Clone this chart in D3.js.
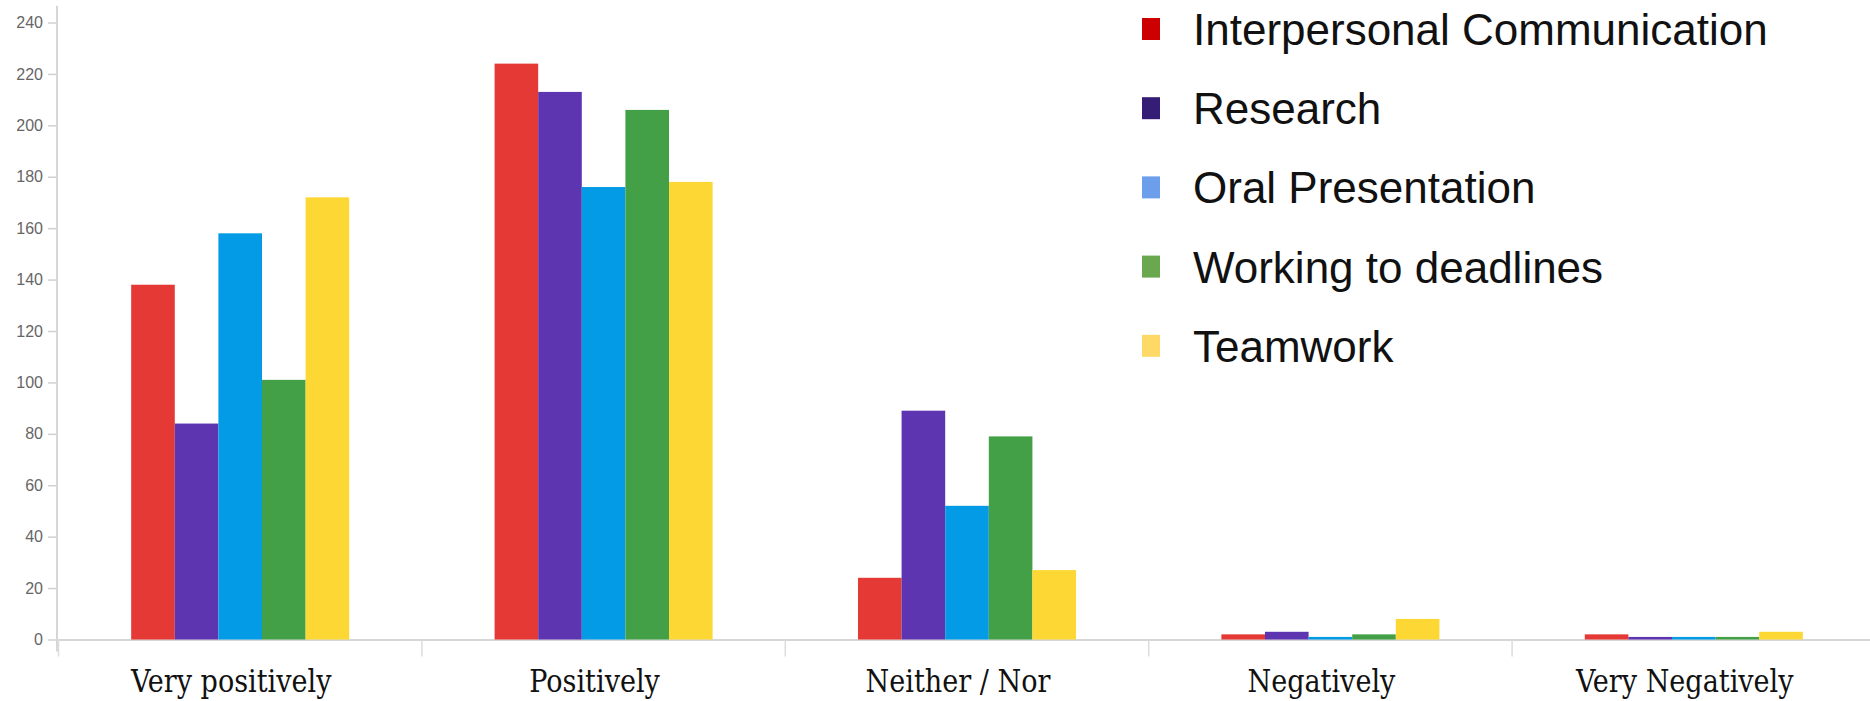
<!DOCTYPE html>
<html>
<head>
<meta charset="utf-8">
<script src="https://cdn.jsdelivr.net/npm/d3@7/dist/d3.min.js"></script>
<style>
  html, body { margin: 0; padding: 0; background: #fff; }
  svg { display: block; }
</style>
</head>
<body>
<svg id="chart" width="1870" height="701"></svg>
<script>
const categories = ["Very positively", "Positively", "Neither / Nor", "Negatively", "Very Negatively"];
const seriesNames = ["Interpersonal Communication", "Research", "Oral Presentation", "Working to deadlines", "Teamwork"];
const interpersonal = [138, 224, 24, 2, 2];
const research      = [84, 213, 89, 3, 1];
const oral          = [158, 176, 52, 1, 1];
const deadlines     = [101, 206, 79, 2, 1];
const teamwork      = [172, 178, 27, 8, 3];
const yTicks = [0, 20, 40, 60, 80, 100, 120, 140, 160, 180, 200, 220, 240];
const barColors = ["#e53935", "#5e35b1", "#039be5", "#43a047", "#fdd835"];
const legendColors = ["#cc0000", "#351c75", "#6d9eeb", "#6aa84f", "#ffd966"];

const seriesValues = [interpersonal, research, oral, deadlines, teamwork];
const rows = categories.map((c, i) => ({ cat: c, vals: seriesNames.map((s, j) => ({ s, j, v: seriesValues[j][i] })) }));

const svg = d3.select("#chart");
const x0 = d3.scaleBand().domain(categories).range([58.5, 1875.5]).padding(0);
const bw = x0.bandwidth();
const x1 = d3.scaleBand().domain(seriesNames).range([0.2 * bw, 0.8 * bw]).padding(0);
const y = d3.scaleLinear().domain([0, 240]).range([639.5, 22.5]);

// y axis
const yAxis = svg.append("g").attr("transform", "translate(57,0)")
  .call(d3.axisLeft(y).tickValues(yTicks).tickSize(9).tickPadding(5));
yAxis.select(".domain").remove();
yAxis.selectAll(".tick line").attr("stroke", "#d0d0d0").attr("stroke-width", 1.5);
yAxis.selectAll(".tick text").attr("fill", "#666")
  .style("font-family", "'Liberation Sans', Arial, sans-serif").style("font-size", "16px");
svg.append("line").attr("x1", 57).attr("x2", 57).attr("y1", y(246.5)).attr("y2", y(0) + 12)
  .attr("stroke", "#d6d6d6").attr("stroke-width", 2);

// x axis baseline
svg.append("line").attr("x1", 57).attr("x2", 1870).attr("y1", y(0) + 0.5).attr("y2", y(0) + 0.5)
  .attr("stroke", "#d6d6d6").attr("stroke-width", 2);
svg.selectAll(".sep").data(categories).enter().append("line")
  .attr("class", "sep")
  .attr("x1", d => x0(d)).attr("x2", d => x0(d))
  .attr("y1", y(0)).attr("y2", y(0) + 17)
  .attr("stroke", "#dcdcdc").attr("stroke-width", 1.5);

// bars
const groups = svg.selectAll(".grp").data(rows).enter().append("g")
  .attr("class", "grp").attr("transform", d => `translate(${x0(d.cat)},0)`);
groups.selectAll("rect").data(d => d.vals).enter().append("rect")
  .attr("x", d => x1(d.s)).attr("width", x1.bandwidth())
  .attr("y", d => y(d.v)).attr("height", d => y(0) - y(d.v))
  .attr("fill", d => barColors[d.j]);

// category labels
svg.selectAll(".cat").data(categories).enter().append("text")
  .attr("class", "cat")
  .attr("transform", d => `translate(${x0(d) + bw / 2 - 9},692) scale(0.94,1)`)
  .attr("text-anchor", "middle")
  .style("font-family", "'DejaVu Serif', serif")
  .style("font-stretch", "condensed")
  .style("font-size", "32px")
  .attr("fill", "#111")
  .text(d => d);

// legend
const leg = svg.selectAll(".leg").data(seriesNames).enter().append("g")
  .attr("class", "leg").attr("transform", (d, i) => `translate(1142,${29 + i * 79.2})`);
leg.append("rect").attr("x", 0).attr("y", -11).attr("width", 18).attr("height", 22)
  .attr("fill", (d, i) => legendColors[i]);
leg.append("text").attr("x", 51).attr("y", 16)
  .style("font-family", "'Liberation Sans', Arial, sans-serif")
  .style("font-size", "44px")
  .attr("fill", "#111")
  .text(d => d);
</script>
</body>
</html>
